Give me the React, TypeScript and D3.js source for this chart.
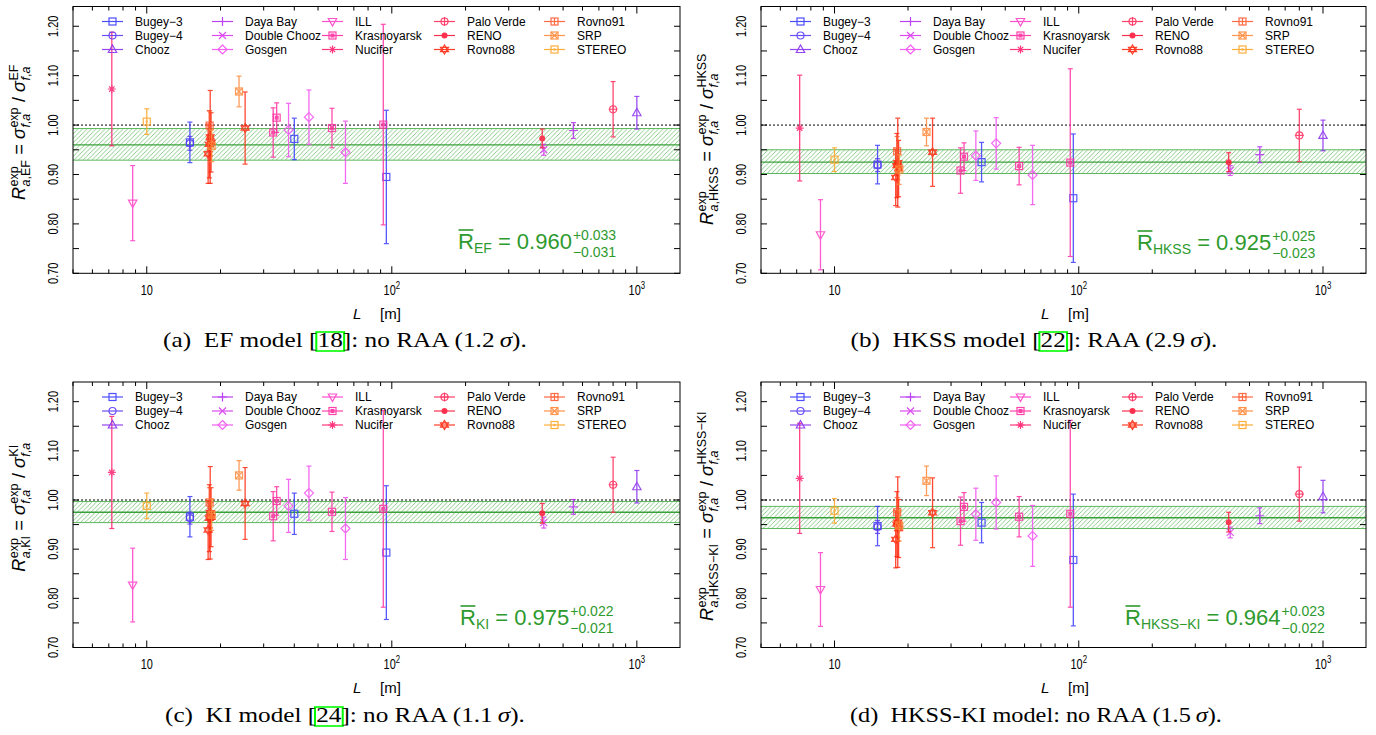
import React, { useEffect, useRef } from 'react';
import * as d3 from 'd3';

// ---------------- data ----------------
const experiments = ['Bugey−3', 'Bugey−4', 'Chooz', 'Daya Bay', 'Double Chooz', 'Gosgen', 'ILL', 'Krasnoyarsk', 'Nucifer', 'Palo Verde', 'RENO', 'Rovno88', 'Rovno91', 'SRP', 'STEREO'];
const experimentColors = ['#3b3bff', '#5b3cf5', '#8a30f0', '#b52ef0', '#d93af0', '#f24ff0', '#ff3fc8', '#ff2ea0', '#ff2070', '#ff2a5a', '#ff1a3c', '#ff2a10', '#ff5a30', '#ff8a3a', '#ffa526'];
const experimentSymbols = ['square', 'circle', 'triangleUp', 'plus', 'cross', 'diamond', 'triangleDown', 'squareFilled', 'asterisk', 'circlePlus', 'dot', 'hexagram', 'squarePlus', 'squareCross', 'squareDot'];

const pointExperiment = ['Bugey−3', 'Bugey−3', 'Bugey−3', 'Bugey−4', 'Chooz', 'Daya Bay', 'Double Chooz', 'Gosgen', 'Gosgen', 'Gosgen', 'ILL', 'Krasnoyarsk', 'Krasnoyarsk', 'Krasnoyarsk', 'Krasnoyarsk', 'Nucifer', 'Palo Verde', 'RENO', 'Rovno88', 'Rovno88', 'Rovno88', 'Rovno88', 'Rovno88', 'Rovno91', 'SRP', 'SRP', 'STEREO'];
const pointBaseline = [15, 40, 95, 15, 1000, 551, 417, 37.9, 45.9, 64.7, 8.76, 32.8, 92.3, 57.0, 33.9, 7.2, 800, 411, 18.0, 17.8, 18.15, 25.2, 18.3, 18.05, 18.4, 23.8, 10.0];

const ratioEF = [0.965, 0.972, 0.895, 0.963, 1.025, 0.989, 0.950, 0.990, 1.016, 0.945, 0.842, 0.985, 1.001, 0.994, 1.015, 1.073, 1.032, 0.973, 0.961, 0.942, 0.976, 0.994, 0.965, 0.999, 0.958, 1.068, 1.007];
const errEF = [0.041, 0.042, 0.135, 0.014, 0.033, 0.016, 0.011, 0.054, 0.055, 0.063, 0.076, 0.050, 0.203, 0.040, 0.030, 0.115, 0.056, 0.019, 0.068, 0.060, 0.094, 0.073, 0.060, 0.030, 0.032, 0.031, 0.026];

const ratioHKSS = [0.920, 0.925, 0.852, 0.919, 0.979, 0.940, 0.908, 0.938, 0.963, 0.899, 0.778, 0.908, 0.924, 0.917, 0.936, 0.994, 0.979, 0.925, 0.918, 0.894, 0.924, 0.945, 0.912, 0.947, 0.910, 0.986, 0.930];
const errHKSS = [0.039, 0.040, 0.130, 0.013, 0.031, 0.016, 0.010, 0.050, 0.052, 0.060, 0.071, 0.046, 0.190, 0.038, 0.028, 0.107, 0.053, 0.019, 0.065, 0.057, 0.090, 0.069, 0.057, 0.030, 0.030, 0.028, 0.024];

const ratioKI = [0.966, 0.972, 0.893, 0.963, 1.027, 0.986, 0.954, 0.988, 1.014, 0.942, 0.827, 0.967, 0.982, 0.976, 0.998, 1.056, 1.031, 0.973, 0.963, 0.939, 0.974, 0.993, 0.965, 0.995, 0.970, 1.050, 0.988];
const errKI = [0.041, 0.042, 0.136, 0.012, 0.033, 0.015, 0.011, 0.054, 0.055, 0.063, 0.075, 0.050, 0.200, 0.040, 0.029, 0.114, 0.056, 0.020, 0.068, 0.060, 0.094, 0.073, 0.060, 0.030, 0.032, 0.030, 0.026];

const ratioHKSSKI = [0.947, 0.954, 0.878, 0.945, 1.007, 0.968, 0.934, 0.971, 0.995, 0.927, 0.818, 0.957, 0.972, 0.966, 0.986, 1.044, 1.012, 0.955, 0.951, 0.920, 0.955, 0.974, 0.942, 0.975, 0.948, 1.039, 0.978];
const errHKSSKI = [0.040, 0.041, 0.134, 0.013, 0.033, 0.016, 0.011, 0.053, 0.054, 0.062, 0.075, 0.049, 0.190, 0.041, 0.029, 0.112, 0.055, 0.020, 0.066, 0.058, 0.092, 0.071, 0.059, 0.030, 0.031, 0.030, 0.025];

const panelModels = ['EF', 'HKSS', 'KI', 'HKSS−KI'];
const meanRatio = [0.960, 0.925, 0.975, 0.964];
const meanErrUp = [0.033, 0.025, 0.022, 0.023];
const meanErrDown = [0.031, 0.023, 0.021, 0.022];

const captionPrefix = ['(a)', '(b)', '(c)', '(d)'];
const captionModel = ['EF model', 'HKSS model', 'KI model', 'HKSS-KI model'];
const captionRef = ['18', '22', '24', ''];
const captionVerdict = ['no RAA', 'RAA', 'no RAA', 'no RAA'];
const captionSigma = ['1.2', '2.9', '1.1', '1.5'];

const xDomain = [5, 1500];
const yDomain = [0.70, 1.24];
const yTickValues = [0.70, 0.75, 0.80, 0.85, 0.90, 0.95, 1.00, 1.05, 1.10, 1.15, 1.20];
const yTickLabels = ['0.70', '', '0.80', '', '0.90', '', '1.00', '', '1.10', '', '1.20'];
const xLabelTicks = [10, 100, 1000];
const xLabelExponents = ['', '2', '3'];

// ---------------- layout ----------------
const panelLayouts = [
  { ox: 0, oy: 0, left: 73, right: 680, top: 6.5, bottom: 273.3, yTitleCY: 132, annX: 458, annY: 249, capCX: 345, capW: 364 },
  { ox: 688, oy: 0, left: 761, right: 1366, top: 6.5, bottom: 273.3, yTitleCY: 139, annX: 1137, annY: 250, capCX: 1034, capW: 367 },
  { ox: 0, oy: 375, left: 73, right: 680, top: 382, bottom: 647.5, yTitleCY: 507, annX: 460, annY: 625, capCX: 345, capW: 360 },
  { ox: 688, oy: 375, left: 761, right: 1366, top: 382, bottom: 647.5, yTitleCY: 516, annX: 1125, annY: 625, capCX: 1036, capW: 372 },
];

const SANS = "'Liberation Sans', Arial, Helvetica, sans-serif";
const SERIF = "'Liberation Serif', 'Times New Roman', serif";
const GREEN_TXT = '#2e9a2e';

type Seg = [string, boolean];

function addText(g: any, x: number, y: number, segs: Seg[], size: number, fill = '#000', family = SANS): number {
  const t = g.append('text').attr('x', x).attr('y', y).attr('font-family', family).attr('font-size', size).attr('fill', fill).style('white-space', 'pre');
  segs.forEach(([s, it]) => t.append('tspan').attr('font-style', it ? 'italic' : 'normal').text(s));
  return (t.node() as SVGTextElement).getComputedTextLength();
}

function drawSymbol(g: any, type: string, cx: number, cy: number, color: string) {
  const s = 3.5;
  const add = (tag: string) => g.append(tag).attr('stroke', color).attr('stroke-width', 1.2).attr('fill', 'none');
  const sq = () => add('rect').attr('x', cx - s).attr('y', cy - s).attr('width', 2 * s).attr('height', 2 * s);
  switch (type) {
    case 'square': sq(); break;
    case 'circle': add('circle').attr('cx', cx).attr('cy', cy).attr('r', s); break;
    case 'triangleUp': add('path').attr('d', `M${cx},${cy - s - 1}L${cx + s + 0.7},${cy + s - 0.5}L${cx - s - 0.7},${cy + s - 0.5}Z`); break;
    case 'triangleDown': add('path').attr('d', `M${cx},${cy + s + 1}L${cx + s + 0.7},${cy - s + 0.5}L${cx - s - 0.7},${cy - s + 0.5}Z`); break;
    case 'plus': add('path').attr('d', `M${cx - s - 1},${cy}H${cx + s + 1}M${cx},${cy - s - 1}V${cy + s + 1}`); break;
    case 'cross': add('path').attr('d', `M${cx - s},${cy - s}L${cx + s},${cy + s}M${cx - s},${cy + s}L${cx + s},${cy - s}`); break;
    case 'diamond': add('path').attr('d', `M${cx},${cy - s - 1}L${cx + s + 1},${cy}L${cx},${cy + s + 1}L${cx - s - 1},${cy}Z`); break;
    case 'squareFilled':
      sq();
      g.append('rect').attr('x', cx - 2).attr('y', cy - 2).attr('width', 4).attr('height', 4).attr('fill', color);
      break;
    case 'asterisk': add('path').attr('d', `M${cx - s - 0.5},${cy}H${cx + s + 0.5}M${cx},${cy - s - 0.5}V${cy + s + 0.5}M${cx - s + 0.8},${cy - s + 0.8}L${cx + s - 0.8},${cy + s - 0.8}M${cx - s + 0.8},${cy + s - 0.8}L${cx + s - 0.8},${cy - s + 0.8}`); break;
    case 'circlePlus':
      add('circle').attr('cx', cx).attr('cy', cy).attr('r', s);
      add('path').attr('d', `M${cx - s - 1},${cy}H${cx + s + 1}M${cx},${cy - s - 1}V${cy + s + 1}`);
      break;
    case 'dot': g.append('circle').attr('cx', cx).attr('cy', cy).attr('r', 3).attr('fill', color); break;
    case 'hexagram':
      add('path').attr('d', `M${cx},${cy - s - 1}L${cx + s + 0.5},${cy + s * 0.6}L${cx - s - 0.5},${cy + s * 0.6}Z`);
      add('path').attr('d', `M${cx},${cy + s + 1}L${cx + s + 0.5},${cy - s * 0.6}L${cx - s - 0.5},${cy - s * 0.6}Z`);
      break;
    case 'squarePlus':
      sq();
      add('path').attr('d', `M${cx - s},${cy}H${cx + s}M${cx},${cy - s}V${cy + s}`);
      break;
    case 'squareCross':
      sq();
      add('path').attr('d', `M${cx - s},${cy - s}L${cx + s},${cy + s}M${cx - s},${cy + s}L${cx + s},${cy - s}`);
      break;
    case 'squareDot':
      sq();
      g.append('circle').attr('cx', cx).attr('cy', cy).attr('r', 1.2).attr('fill', color);
      break;
  }
}

function drawPanel(svg: any, defs: any, P: any, i: number) {
  const x = d3.scaleLog().domain(xDomain).range([P.left, P.right]);
  const y = d3.scaleLinear().domain(yDomain).range([P.bottom, P.top]);
  const clipId = `clip${i}`;
  defs.append('clipPath').attr('id', clipId).append('rect')
    .attr('x', P.left).attr('y', P.top).attr('width', P.right - P.left).attr('height', P.bottom - P.top);
  const plot = svg.append('g').attr('clip-path', `url(#${clipId})`);

  // mean band
  const m = meanRatio[i], up = meanErrUp[i], dn = meanErrDown[i];
  plot.append('rect').attr('x', P.left).attr('width', P.right - P.left)
    .attr('y', y(m + up)).attr('height', y(m - dn) - y(m + up)).attr('fill', 'url(#hatch)');
  [m + up, m - dn].forEach((v) => {
    plot.append('line').attr('x1', P.left).attr('x2', P.right).attr('y1', y(v)).attr('y2', y(v))
      .attr('stroke', '#5cb85c').attr('stroke-width', 1);
  });
  plot.append('line').attr('x1', P.left).attr('x2', P.right).attr('y1', y(m)).attr('y2', y(m))
    .attr('stroke', '#3aa03a').attr('stroke-width', 1.4);

  // reference line at 1
  plot.append('line').attr('x1', P.left).attr('x2', P.right).attr('y1', y(1)).attr('y2', y(1))
    .attr('stroke', '#000').attr('stroke-width', 1).attr('stroke-dasharray', '2,2');

  // legend
  const legColX = [29, 139, 249, 361, 471];
  const legRowY = [19, 33, 47];
  experiments.forEach((name, k) => {
    const col = Math.floor(k / 3), row = k % 3;
    const lx = P.left + legColX[col];
    const ly = P.top + legRowY[row];
    const color = experimentColors[k];
    const g = svg.append('g').attr('opacity', 0.9);
    g.append('line').attr('x1', lx).attr('x2', lx + 21).attr('y1', ly - 4).attr('y2', ly - 4)
      .attr('stroke', color).attr('stroke-width', 1.2);
    drawSymbol(g, experimentSymbols[k], lx + 10.5, ly - 4, color);
    addText(svg, lx + 33, ly, [[name, false]], 12);
  });

  // data points
  const vals = [ratioEF, ratioHKSS, ratioKI, ratioHKSSKI][i];
  const errs = [errEF, errHKSS, errKI, errHKSSKI][i];
  pointExperiment.forEach((name, k) => {
    const e = experiments.indexOf(name);
    const color = experimentColors[e];
    const px = x(pointBaseline[k]);
    const v = vals[k], er = errs[k];
    const g = plot.append('g').attr('opacity', 0.85);
    g.append('line').attr('x1', px).attr('x2', px).attr('y1', y(v - er)).attr('y2', y(v + er))
      .attr('stroke', color).attr('stroke-width', 1.3);
    [v - er, v + er].forEach((c) => {
      g.append('line').attr('x1', px - 2.5).attr('x2', px + 2.5).attr('y1', y(c)).attr('y2', y(c))
        .attr('stroke', color).attr('stroke-width', 1.2);
    });
    drawSymbol(g, experimentSymbols[e], px, y(v), color);
  });

  // frame
  svg.append('rect').attr('x', P.left).attr('y', P.top).attr('width', P.right - P.left).attr('height', P.bottom - P.top)
    .attr('fill', 'none').attr('stroke', '#000').attr('stroke-width', 1);

  // y ticks
  yTickValues.forEach((v, k) => {
    const yy = y(v);
    svg.append('line').attr('x1', P.left).attr('x2', P.left + 6).attr('y1', yy).attr('y2', yy).attr('stroke', '#000');
    svg.append('line').attr('x1', P.right).attr('x2', P.right - 6).attr('y1', yy).attr('y2', yy).attr('stroke', '#000');
    if (yTickLabels[k]) {
      const g = svg.append('g').attr('transform', `translate(${P.left - 14.7},${yy}) rotate(-90) scale(0.78,1)`);
      g.append('text').attr('x', 0).attr('y', 0).attr('text-anchor', 'middle').attr('font-family', SANS)
        .attr('font-size', 14).text(yTickLabels[k]);
    }
  });

  // x ticks
  x.ticks().forEach((t: number) => {
    const major = Math.abs(Math.log10(t) - Math.round(Math.log10(t))) < 1e-9;
    const len = major ? 7 : 4;
    const xx = x(t);
    svg.append('line').attr('x1', xx).attr('x2', xx).attr('y1', P.bottom).attr('y2', P.bottom - len).attr('stroke', '#000');
    svg.append('line').attr('x1', xx).attr('x2', xx).attr('y1', P.top).attr('y2', P.top + len).attr('stroke', '#000');
  });
  xLabelTicks.forEach((t, k) => {
    const g = svg.append('g').attr('transform', `translate(${x(t)},${P.bottom + 21.7}) scale(0.78,1)`);
    const txt = g.append('text').attr('x', 0).attr('y', 0).attr('text-anchor', 'middle').attr('font-family', SANS).attr('font-size', 14);
    txt.append('tspan').text('10');
    if (xLabelExponents[k]) txt.append('tspan').attr('dy', -6).attr('font-size', 10).text(xLabelExponents[k]);
  });

  // x title
  addText(svg, P.left + 280, P.bottom + 45.7, [['L', true]], 15);
  addText(svg, P.left + 307, P.bottom + 45.7, [['[m]', false]], 15);

  // y title (rotated)
  const outer = svg.append('g').attr('transform', `translate(${P.ox + 25},${P.yTitleCY}) rotate(-90)`);
  const inner = outer.append('g');
  let cx = 0;
  const big = 18, small = 12.5;
  const stack = (sup: Seg[], sub: Seg[]) => {
    const a = addText(inner, cx + 0.5, -7.5, sup, small);
    const b = addText(inner, cx + 0.5, 5, sub, small);
    cx += Math.max(a, b) + 1;
  };
  cx += addText(inner, cx, 0, [['R', true]], big);
  stack([['exp', false]], [['a', true], [',' + panelModels[i], false]]);
  cx += addText(inner, cx, 0, [[' = ', false]], big);
  cx += addText(inner, cx, 0, [['σ', true]], big);
  stack([['exp', false]], [['f', true], [',', false], ['a', true]]);
  cx += addText(inner, cx, 0, [[' / ', false]], big);
  cx += addText(inner, cx, 0, [['σ', true]], big);
  stack([[panelModels[i], false]], [['f', true], [',', false], ['a', true]]);
  inner.attr('transform', `translate(${-cx / 2},0)`);

  // mean annotation
  const ag = svg.append('g');
  let ax = P.annX;
  const wR = addText(ag, ax, P.annY, [['R', false]], 22, GREEN_TXT);
  ag.append('line').attr('x1', ax + 0.5).attr('x2', ax + wR - 0.5).attr('y1', P.annY - 19).attr('y2', P.annY - 19)
    .attr('stroke', GREEN_TXT).attr('stroke-width', 1.6);
  ax += wR;
  ax += addText(ag, ax, P.annY + 4, [[panelModels[i], false]], 14, GREEN_TXT);
  ax += addText(ag, ax, P.annY, [[' = ' + m.toFixed(3), false]], 22, GREEN_TXT);
  addText(ag, ax + 1, P.annY - 9, [['+' + up.toFixed(3), false]], 14, GREEN_TXT);
  addText(ag, ax + 1, P.annY + 8, [['−' + dn.toFixed(3), false]], 14, GREEN_TXT);

  // caption
  const cg = svg.append('g');
  const t = cg.append('text').attr('x', 0).attr('y', 0).attr('font-family', SERIF).attr('font-size', 20).attr('fill', '#000').style('white-space', 'pre');
  const ref = captionRef[i];
  t.append('tspan').text(`${captionPrefix[i]}  ${captionModel[i]}${ref ? ' [' : ''}`);
  const refSpan = ref ? t.append('tspan').text(ref) : null;
  t.append('tspan').text(`${ref ? ']' : ''}: ${captionVerdict[i]} (${captionSigma[i]}\u2009`);
  t.append('tspan').attr('font-style', 'italic').text('σ');
  t.append('tspan').text(').');
  const W = (t.node() as SVGTextElement).getComputedTextLength();
  const sx = P.capW / W;
  if (refSpan) {
    const node = refSpan.node() as SVGTextContentElement;
    const sp = node.getStartPositionOfChar(0).x;
    const rw = node.getComputedTextLength();
    cg.insert('rect', 'text').attr('x', sp - 1).attr('y', -15).attr('width', rw + 2).attr('height', 19)
      .attr('fill', 'none').attr('stroke', '#00ff00').attr('stroke-width', 1.6);
  }
  cg.attr('transform', `translate(${P.capCX - (W * sx) / 2},${P.oy + 347}) scale(${sx},1)`);
}

export default function App() {
  const ref = useRef<SVGSVGElement>(null);
  useEffect(() => {
    const svg = d3.select(ref.current);
    svg.selectAll('*').remove();
    svg.append('rect').attr('x', 0).attr('y', 0).attr('width', 1376).attr('height', 735).attr('fill', '#fff');
    const defs = svg.append('defs');
    const pat = defs.append('pattern').attr('id', 'hatch').attr('patternUnits', 'userSpaceOnUse').attr('width', 4.5).attr('height', 4.5);
    pat.append('path').attr('d', 'M-1,1L1,-1M0,4.5L4.5,0M3.5,5.5L5.5,3.5').attr('stroke', '#6cc06c').attr('stroke-width', 0.8);
    panelLayouts.forEach((P, i) => drawPanel(svg, defs, P, i));
  }, []);
  return (
    <svg ref={ref} width={1376} height={735} style={{ position: 'absolute', left: 0, top: 0, display: 'block' }} />
  );
}
